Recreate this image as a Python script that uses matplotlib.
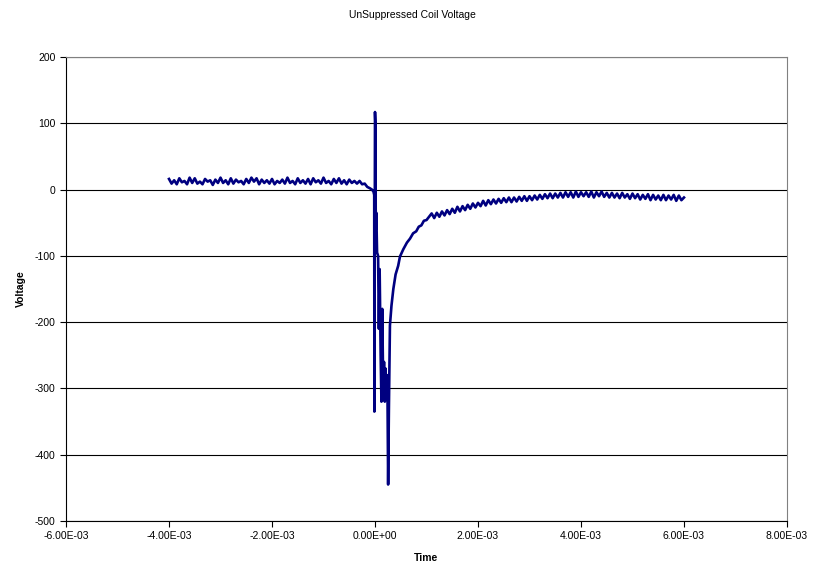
import matplotlib
matplotlib.use("Agg")
import matplotlib.pyplot as plt
from matplotlib.ticker import FuncFormatter, MultipleLocator

plt.rcParams['font.family'] = ['Liberation Sans', 'DejaVu Sans']

# time in ms, voltage in V
pre_t = [-4.00, -3.95, -3.90, -3.85, -3.80, -3.75, -3.70, -3.65, -3.60, -3.55,
         -3.50, -3.45, -3.40, -3.35, -3.30, -3.25, -3.20, -3.15, -3.10, -3.05,
         -3.00, -2.95, -2.90, -2.85, -2.80, -2.75, -2.70, -2.65, -2.60, -2.55,
         -2.50, -2.45, -2.40, -2.35, -2.30, -2.25, -2.20, -2.15, -2.10, -2.05,
         -2.00, -1.95, -1.90, -1.85, -1.80, -1.75, -1.70, -1.65, -1.60, -1.55,
         -1.50, -1.45, -1.40, -1.35, -1.30, -1.25, -1.20, -1.15, -1.10, -1.05,
         -1.00, -0.95, -0.90, -0.85, -0.80, -0.75, -0.70, -0.65, -0.60, -0.55,
         -0.50, -0.45, -0.40, -0.35]
pre_v = [16, 9, 14, 8, 17, 11, 13, 8, 18, 10,
         17, 9, 12, 8, 16, 12, 14, 7, 15, 10,
         18, 10, 14, 8, 17, 9, 15, 11, 13, 8,
         16, 10, 18, 12, 17, 8, 15, 10, 14, 9,
         16, 8, 13, 10, 15, 9, 18, 10, 13, 8,
         17, 10, 14, 9, 16, 8, 17, 11, 14, 9,
         18, 10, 13, 8, 16, 10, 17, 9, 14, 8,
         15, 10, 13, 9]

spike_t = [-0.30, -0.25, -0.20, -0.15, -0.10, -0.06, -0.03, -0.015, -0.012, -0.006,
           0.000, 0.008, 0.015, 0.025, 0.040, 0.060, 0.075, 0.090, 0.110, 0.125,
           0.140, 0.160, 0.175, 0.190, 0.205, 0.220, 0.240, 0.255, 0.270, 0.290,
           0.320, 0.356, 0.400, 0.450, 0.485, 0.550, 0.620, 0.680, 0.740, 0.800,
           0.850, 0.900, 0.950, 1.000, 1.050]
spike_v = [13, 8, 9, 4, 2, 0, -3, -8, -335, -120,
           117, 100, -60, -35, -95, -100, -210, -120, -250, -320,
           -180, -300, -260, -320, -270, -310, -280, -445, -330, -205,
           -175, -150, -128, -115, -101, -90, -80, -74, -66, -63,
           -56, -54, -47, -46, -41]

post_t = [1.10, 1.15, 1.20, 1.25, 1.30, 1.35, 1.40, 1.45, 1.50, 1.55,
          1.60, 1.65, 1.70, 1.75, 1.80, 1.85, 1.90, 1.95, 2.00, 2.05,
          2.10, 2.15, 2.20, 2.25, 2.30, 2.35, 2.40, 2.45, 2.50, 2.55,
          2.60, 2.65, 2.70, 2.75, 2.80, 2.85, 2.90, 2.95, 3.00, 3.05,
          3.10, 3.15, 3.20, 3.25, 3.30, 3.35, 3.40, 3.45, 3.50, 3.55,
          3.60, 3.65, 3.70, 3.75, 3.80, 3.85, 3.90, 3.95, 4.00, 4.05,
          4.10, 4.15, 4.20, 4.25, 4.30, 4.35, 4.40, 4.45, 4.50, 4.55,
          4.60, 4.65, 4.70, 4.75, 4.80, 4.85, 4.90, 4.95, 5.00, 5.05,
          5.10, 5.15, 5.20, 5.25, 5.30, 5.35, 5.40, 5.45, 5.50, 5.55,
          5.60, 5.65, 5.70, 5.75, 5.80, 5.85, 5.90, 5.95, 6.00]
post_v = [-36, -43, -35, -41, -33, -39, -31, -37, -29, -35,
          -26, -33, -25, -31, -23, -29, -21, -27, -20, -25,
          -17, -24, -16, -22, -15, -21, -14, -20, -13, -19,
          -12, -19, -12, -18, -11, -17, -10, -17, -10, -16,
          -9, -15, -8, -14, -7, -13, -6, -13, -6, -12,
          -5, -12, -4, -11, -4, -12, -3, -11, -4, -10,
          -4, -11, -3, -12, -4, -10, -3, -11, -5, -12,
          -5, -12, -6, -13, -5, -12, -7, -14, -6, -13,
          -7, -15, -8, -14, -7, -16, -8, -15, -9, -16,
          -8, -16, -9, -15, -8, -17, -9, -16, -12]

t = [v * 1e-3 for v in pre_t + spike_t + post_t]
volts = pre_v + spike_v + post_v

fig = plt.figure(figsize=(8.13, 5.69), dpi=100)
ax = fig.add_axes([0.0812, 0.0844, 0.8868, 0.8154])

ax.plot(t, volts, color='#000080', lw=1.9, zorder=3)

ax.set_xlim(-6e-3, 8e-3)
ax.set_ylim(-500, 200)
ax.xaxis.set_major_locator(MultipleLocator(2e-3))
ax.yaxis.set_major_locator(MultipleLocator(100))
ax.xaxis.set_major_formatter(FuncFormatter(lambda v, p: f"{v:.2E}"))
ax.yaxis.set_major_formatter(FuncFormatter(lambda v, p: f"{v:.0f}"))
ax.grid(axis='y', color='black', lw=0.8)
ax.set_axisbelow(True)

for s in ['top', 'right']:
    ax.spines[s].set_color('#808080')
ax.spines['left'].set_color('black')
ax.spines['bottom'].set_color('black')
ax.tick_params(direction='out', length=4, width=0.8, labelsize=7.5, colors='black')

ax.set_xlabel('Time', fontsize=7.5, fontweight='bold', labelpad=8)
ax.set_ylabel('Voltage', fontsize=7.5, fontweight='bold', labelpad=6)
fig.text(412 / 813, 1 - 15 / 569, 'UnSuppressed Coil Voltage', ha='center', va='center', fontsize=7.5)

fig.savefig('out.png', dpi=100)
